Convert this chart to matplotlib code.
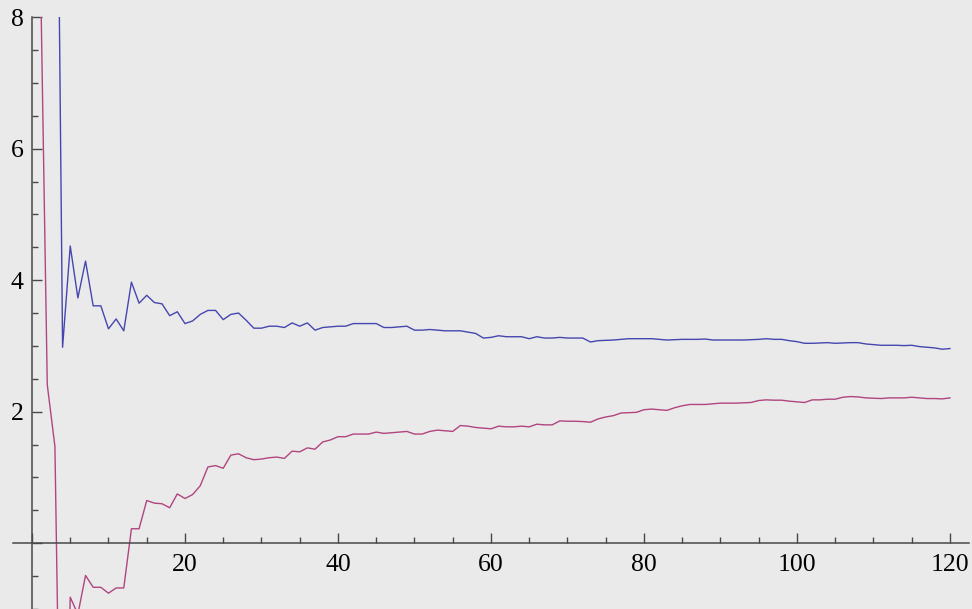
import numpy as np
import matplotlib
matplotlib.use('Agg')
import matplotlib.pyplot as plt
from matplotlib.patches import Rectangle

# upper series (blue), starts at n = 3
blue_start = 3
blue_vals = [15.0, 2.98, 4.52, 3.73, 4.29, 3.61, 3.61, 3.26, 3.41, 3.23,
             3.97, 3.65, 3.77, 3.66, 3.64, 3.46, 3.52, 3.34, 3.38, 3.48,
             3.54, 3.54, 3.40, 3.48, 3.50, 3.39, 3.27, 3.27, 3.30, 3.30,
             3.28, 3.35, 3.30, 3.35, 3.24, 3.28, 3.29, 3.30, 3.30, 3.34,
             3.34, 3.34, 3.34, 3.28, 3.28, 3.29, 3.30, 3.24, 3.24, 3.25,
             3.24, 3.23, 3.23, 3.23, 3.21, 3.19, 3.12, 3.13, 3.155, 3.14,
             3.14, 3.14, 3.11, 3.14, 3.12, 3.12, 3.13, 3.12, 3.12, 3.12,
             3.06, 3.08, 3.085, 3.09, 3.10, 3.11, 3.11, 3.11, 3.11, 3.10,
             3.09, 3.095, 3.10, 3.10, 3.10, 3.105, 3.09, 3.09, 3.09, 3.09,
             3.09, 3.095, 3.10, 3.11, 3.10, 3.10, 3.08, 3.065, 3.04, 3.04,
             3.045, 3.05, 3.04, 3.045, 3.05, 3.05, 3.03, 3.02, 3.01, 3.01,
             3.01, 3.005, 3.01, 2.99, 2.98, 2.97, 2.95, 2.96]

# lower series (magenta), starts at n = 1
red_start = 1
red_vals = [9.5, 2.41, 1.47, -6.0, -0.82, -1.08, -0.49, -0.67, -0.67, -0.76,
            -0.68, -0.68, 0.22, 0.22, 0.65, 0.61, 0.60, 0.54, 0.75, 0.68,
            0.74, 0.875, 1.16, 1.18, 1.14, 1.34, 1.36, 1.30, 1.27, 1.28,
            1.30, 1.31, 1.29, 1.40, 1.39, 1.45, 1.43, 1.54, 1.57, 1.62,
            1.62, 1.66, 1.66, 1.66, 1.69, 1.67, 1.68, 1.69, 1.70, 1.66,
            1.66, 1.70, 1.72, 1.71, 1.70, 1.79, 1.78, 1.76, 1.75, 1.74,
            1.78, 1.77, 1.77, 1.78, 1.77, 1.81, 1.80, 1.80, 1.86, 1.855,
            1.855, 1.85, 1.84, 1.89, 1.92, 1.94, 1.98, 1.985, 1.99, 2.03,
            2.04, 2.03, 2.02, 2.06, 2.09, 2.11, 2.11, 2.11, 2.12, 2.13,
            2.13, 2.13, 2.135, 2.14, 2.17, 2.18, 2.175, 2.175, 2.16, 2.15,
            2.14, 2.18, 2.18, 2.19, 2.19, 2.22, 2.23, 2.225, 2.21, 2.205,
            2.20, 2.21, 2.21, 2.21, 2.22, 2.21, 2.20, 2.20, 2.195, 2.21]

x_labels = [20, 40, 60, 80, 100, 120]
y_labels = [2, 4, 6, 8]

blue_x = np.arange(blue_start, blue_start + len(blue_vals))
red_x = np.arange(red_start, red_start + len(red_vals))

bg = '#EAEAEA'
axis_col = '#484848'

fig = plt.figure(figsize=(9.72, 6.09), dpi=100, facecolor=bg)
ax = fig.add_axes([0, 0, 1, 1], facecolor=bg)

# plot range is cut at 8, with some padding above
clip = Rectangle((-10, -10), 150, 18, transform=ax.transData)
l1, = ax.plot(blue_x, blue_vals, color='#4646b0', lw=1.0)
l2, = ax.plot(red_x, red_vals, color='#b0457f', lw=1.0)
l1.set_clip_path(clip)
l2.set_clip_path(clip)

ax.set_xlim(-4.18, 122.88)
ax.set_ylim(-0.994, 8.26)

for s in ['top', 'right']:
    ax.spines[s].set_visible(False)
ax.spines['left'].set_position(('data', 0))
ax.spines['bottom'].set_position(('data', 0))
ax.spines['left'].set_bounds(-0.994, 8)
ax.spines['bottom'].set_bounds(-2.5, 122.5)
for s in ['left', 'bottom']:
    ax.spines[s].set_color(axis_col)
    ax.spines[s].set_linewidth(1.1)

ax.set_xticks([0] + x_labels)
ax.set_xticklabels([''] + [str(v) for v in x_labels])
ax.set_xticks(np.arange(5, 121, 5), minor=True)
ax.set_yticks([0] + y_labels)
ax.set_yticklabels([''] + [str(v) for v in y_labels])
ax.set_yticks(np.arange(-1.0, 8.01, 0.5), minor=True)

ax.tick_params(which='both', direction='in', colors=axis_col, width=1.0,
               labelcolor='black', labelsize=18.5)
ax.tick_params(which='major', length=7.2)
ax.tick_params(which='minor', length=4.3)
ax.tick_params(axis='x', pad=8)
ax.tick_params(axis='y', pad=6)
for lab in ax.get_xticklabels() + ax.get_yticklabels():
    lab.set_fontfamily('Liberation Serif')

plt.savefig('out.png', dpi=100, facecolor=bg)
